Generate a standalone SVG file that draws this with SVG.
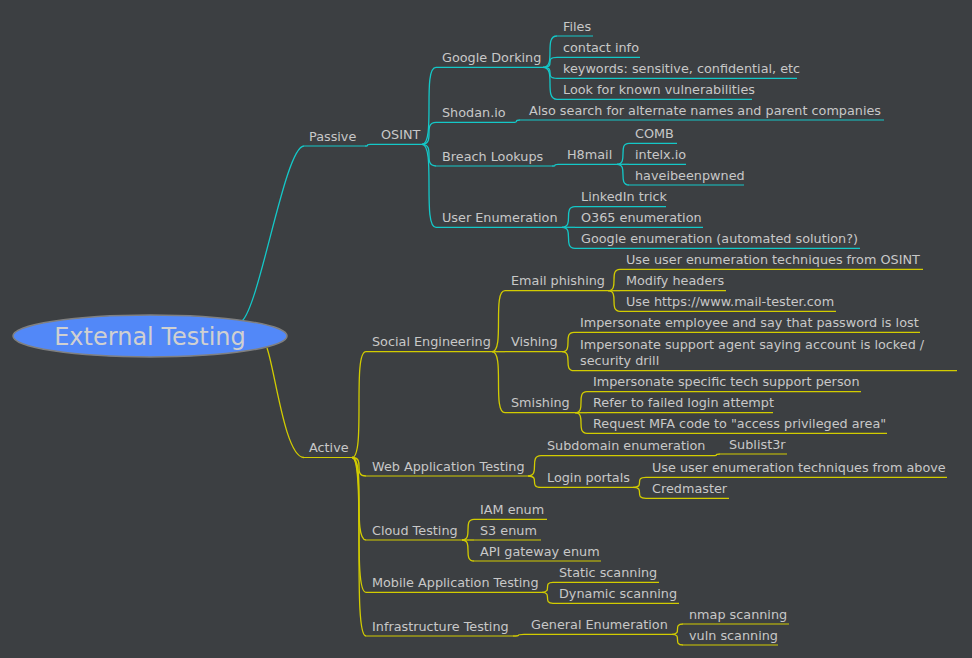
<svg xmlns="http://www.w3.org/2000/svg" width="972" height="658" viewBox="0 0 972 658">
<style>
text{font-family:"DejaVu Sans","Liberation Sans",sans-serif;font-size:12.8px;fill:#c8c8c8}
.root{font-size:24px;text-anchor:middle;fill:#d0d0d0}
.c path{fill:none;stroke-width:1.3}
.c .p{stroke:#14c8c8}
.c .a{stroke:#d2cc00}
line{stroke-width:1.2}
.P line{stroke:#14c8c8}
.A line{stroke:#d2cc00}
</style>
<rect width="972" height="658" fill="#3c3f42"/>
<g class="c" id="connectors">
<path class="p" d="M242 321C260 305 285 146 304 146"/>
<path class="p" d="M365 146C370 146 365 144.3 370 144.3"/>
<path class="p" d="M422 144.3C436 144.3 422 67.3 436 67.3"/>
<path class="p" d="M422 144.3C436 144.3 422 122.3 436 122.3"/>
<path class="p" d="M422 144.3C436 144.3 422 166 436 166"/>
<path class="p" d="M422 144.3C436 144.3 422 227.3 436 227.3"/>
<path class="p" d="M543 67.3C557 67.3 543 36 557 36"/>
<path class="p" d="M543 67.3C557 67.3 543 57.3 557 57.3"/>
<path class="p" d="M543 67.3C557 67.3 543 78.3 557 78.3"/>
<path class="p" d="M543 67.3C557 67.3 543 99.3 557 99.3"/>
<path class="p" d="M513 122.3C520 122.3 513 120 520 120"/>
<path class="p" d="M552 166C558 166 552 164.3 558 164.3"/>
<path class="p" d="M617 164.3C629 164.3 617 143.3 629 143.3"/>
<path class="p" d="M617 164.3C629 164.3 617 164.3 629 164.3"/>
<path class="p" d="M617 164.3C629 164.3 617 185 629 185"/>
<path class="p" d="M562 227.3C575 227.3 562 206.7 575 206.7"/>
<path class="p" d="M562 227.3C575 227.3 562 227.3 575 227.3"/>
<path class="p" d="M562 227.3C575 227.3 562 248.3 575 248.3"/>
<path class="a" d="M267 348C275 370 285 457.5 304 457.5"/>
<path class="a" d="M352 457.5C366 457.5 352 351.7 366 351.7"/>
<path class="a" d="M352 457.5C366 457.5 352 476 366 476"/>
<path class="a" d="M352 457.5C366 457.5 352 540 366 540"/>
<path class="a" d="M352 457.5C366 457.5 352 592.3 366 592.3"/>
<path class="a" d="M352 457.5C366 457.5 352 636 366 636"/>
<path class="a" d="M492 351.7C505 351.7 492 290.7 505 290.7"/>
<path class="a" d="M492 351.7C505 351.7 492 351.7 505 351.7"/>
<path class="a" d="M492 351.7C505 351.7 492 412.7 505 412.7"/>
<path class="a" d="M608 290.7C620 290.7 608 269.3 620 269.3"/>
<path class="a" d="M608 290.7C620 290.7 608 290.7 620 290.7"/>
<path class="a" d="M608 290.7C620 290.7 608 311.3 620 311.3"/>
<path class="a" d="M562 351.7C574 351.7 562 332.3 574 332.3"/>
<path class="a" d="M562 351.7C574 351.7 562 370.7 574 370.7"/>
<path class="a" d="M575 412.7C587 412.7 575 391.7 587 391.7"/>
<path class="a" d="M575 412.7C587 412.7 575 412.7 587 412.7"/>
<path class="a" d="M575 412.7C587 412.7 575 433.3 587 433.3"/>
<path class="a" d="M528 476C541 476 528 455.7 541 455.7"/>
<path class="a" d="M528 476C541 476 528 487.3 541 487.3"/>
<path class="a" d="M713 455.7C720 455.7 713 454 720 454"/>
<path class="a" d="M633 487.3C646 487.3 633 477.3 646 477.3"/>
<path class="a" d="M633 487.3C646 487.3 633 498.3 646 498.3"/>
<path class="a" d="M462 540C474 540 462 519.3 474 519.3"/>
<path class="a" d="M462 540C474 540 462 540 474 540"/>
<path class="a" d="M462 540C474 540 462 561 474 561"/>
<path class="a" d="M542 592.3C553 592.3 542 582.3 553 582.3"/>
<path class="a" d="M542 592.3C553 592.3 542 603.3 553 603.3"/>
<path class="a" d="M513 636C524 636 513 634.3 524 634.3"/>
<path class="a" d="M672 634.3C683 634.3 672 624 683 624"/>
<path class="a" d="M672 634.3C683 634.3 672 645 683 645"/>
</g>
<g id="root"><ellipse cx="150" cy="336" rx="137" ry="21" fill="#5288f8" stroke="#808080" stroke-width="1.5"/><text class="root" x="150" y="345">External Testing</text></g>
<g class="P">
<g id="passive"><line x1="304" y1="146" x2="365" y2="146"/><text x="309" y="140.5">Passive</text></g>
<g id="osint"><line x1="370" y1="144.3" x2="422" y2="144.3"/><text x="381" y="138.8">OSINT</text></g>
<g id="gdork"><line x1="436" y1="67.3" x2="543" y2="67.3"/><text x="442" y="61.8">Google Dorking</text></g>
<g id="files"><line x1="557" y1="36" x2="593" y2="36"/><text x="563" y="30.5">Files</text></g>
<g id="contact"><line x1="557" y1="57.3" x2="640" y2="57.3"/><text x="563" y="51.8">contact info</text></g>
<g id="keywords"><line x1="557" y1="78.3" x2="797" y2="78.3"/><text x="563" y="72.8">keywords: sensitive, confidential, etc</text></g>
<g id="vulns"><line x1="557" y1="99.3" x2="752" y2="99.3"/><text x="563" y="93.8">Look for known vulnerabilities</text></g>
<g id="shodan"><line x1="436" y1="122.3" x2="513" y2="122.3"/><text x="442" y="116.8">Shodan.io</text></g>
<g id="altnames"><line x1="520" y1="120" x2="884" y2="120"/><text x="529" y="114.5">Also search for alternate names and parent companies</text></g>
<g id="breach"><line x1="436" y1="166" x2="552" y2="166"/><text x="442" y="160.5">Breach Lookups</text></g>
<g id="h8mail"><line x1="558" y1="164.3" x2="617" y2="164.3"/><text x="567" y="158.8">H8mail</text></g>
<g id="comb"><line x1="629" y1="143.3" x2="677" y2="143.3"/><text x="635" y="137.8">COMB</text></g>
<g id="intelx"><line x1="629" y1="164.3" x2="686" y2="164.3"/><text x="635" y="158.8">intelx.io</text></g>
<g id="hibp"><line x1="629" y1="185" x2="744" y2="185"/><text x="635" y="179.5">haveibeenpwned</text></g>
<g id="userenum"><line x1="436" y1="227.3" x2="562" y2="227.3"/><text x="442" y="221.8">User Enumeration</text></g>
<g id="linkedin"><line x1="575" y1="206.7" x2="666" y2="206.7"/><text x="581" y="201.2">LinkedIn trick</text></g>
<g id="o365"><line x1="575" y1="227.3" x2="703" y2="227.3"/><text x="581" y="221.8">O365 enumeration</text></g>
<g id="googleenum"><line x1="575" y1="248.3" x2="860" y2="248.3"/><text x="581" y="242.8">Google enumeration (automated solution?)</text></g>
</g>
<g class="A">
<g id="active"><line x1="304" y1="457.5" x2="352" y2="457.5"/><text x="309" y="452">Active</text></g>
<g id="soceng"><line x1="366" y1="351.7" x2="492" y2="351.7"/><text x="372" y="346.2">Social Engineering</text></g>
<g id="email"><line x1="505" y1="290.7" x2="608" y2="290.7"/><text x="511" y="285.2">Email phishing</text></g>
<g id="email1"><line x1="620" y1="269.3" x2="923" y2="269.3"/><text x="626" y="263.8">Use user enumeration techniques from OSINT</text></g>
<g id="email2"><line x1="620" y1="290.7" x2="726" y2="290.7"/><text x="626" y="285.2">Modify headers</text></g>
<g id="email3"><line x1="620" y1="311.3" x2="836" y2="311.3"/><text x="626" y="305.8">Use https://www.mail-tester.com</text></g>
<g id="vishing"><line x1="505" y1="351.7" x2="562" y2="351.7"/><text x="511" y="346.2">Vishing</text></g>
<g id="vish1"><line x1="574" y1="332.3" x2="920" y2="332.3"/><text x="580" y="326.8">Impersonate employee and say that password is lost</text></g>
<g id="vish2"><line x1="574" y1="370.7" x2="957" y2="370.7"/><text x="580" y="348.5">Impersonate support agent saying account is locked /</text><text x="580" y="364.5">security drill</text></g>
<g id="smishing"><line x1="505" y1="412.7" x2="575" y2="412.7"/><text x="511" y="407.2">Smishing</text></g>
<g id="smish1"><line x1="587" y1="391.7" x2="861" y2="391.7"/><text x="593" y="386.2">Impersonate specific tech support person</text></g>
<g id="smish2"><line x1="587" y1="412.7" x2="773" y2="412.7"/><text x="593" y="407.2">Refer to failed login attempt</text></g>
<g id="smish3"><line x1="587" y1="433.3" x2="887" y2="433.3"/><text x="593" y="427.8">Request MFA code to "access privileged area"</text></g>
<g id="webapp"><line x1="366" y1="476" x2="528" y2="476"/><text x="372" y="470.5">Web Application Testing</text></g>
<g id="subdomain"><line x1="541" y1="455.7" x2="713" y2="455.7"/><text x="547" y="450.2">Subdomain enumeration</text></g>
<g id="sublist3r"><line x1="720" y1="454" x2="787" y2="454"/><text x="729" y="448.5">Sublist3r</text></g>
<g id="login"><line x1="541" y1="487.3" x2="633" y2="487.3"/><text x="547" y="481.8">Login portals</text></g>
<g id="login1"><line x1="646" y1="477.3" x2="947" y2="477.3"/><text x="652" y="471.8">Use user enumeration techniques from above</text></g>
<g id="credmaster"><line x1="646" y1="498.3" x2="729" y2="498.3"/><text x="652" y="492.8">Credmaster</text></g>
<g id="cloud"><line x1="366" y1="540" x2="462" y2="540"/><text x="372" y="534.5">Cloud Testing</text></g>
<g id="iam"><line x1="474" y1="519.3" x2="547" y2="519.3"/><text x="480" y="513.8">IAM enum</text></g>
<g id="s3"><line x1="474" y1="540" x2="541" y2="540"/><text x="480" y="534.5">S3 enum</text></g>
<g id="apigw"><line x1="474" y1="561" x2="601" y2="561"/><text x="480" y="555.5">API gateway enum</text></g>
<g id="mobile"><line x1="366" y1="592.3" x2="542" y2="592.3"/><text x="372" y="586.8">Mobile Application Testing</text></g>
<g id="static"><line x1="553" y1="582.3" x2="659" y2="582.3"/><text x="559" y="576.8">Static scanning</text></g>
<g id="dynamic"><line x1="553" y1="603.3" x2="679" y2="603.3"/><text x="559" y="597.8">Dynamic scanning</text></g>
<g id="infra"><line x1="366" y1="636" x2="513" y2="636"/><text x="372" y="630.5">Infrastructure Testing</text></g>
<g id="genenum"><line x1="524" y1="634.3" x2="672" y2="634.3"/><text x="531" y="628.8">General Enumeration</text></g>
<g id="nmap"><line x1="683" y1="624" x2="789" y2="624"/><text x="689" y="618.5">nmap scanning</text></g>
<g id="vuln"><line x1="683" y1="645" x2="778" y2="645"/><text x="689" y="639.5">vuln scanning</text></g>
</g>
</svg>
